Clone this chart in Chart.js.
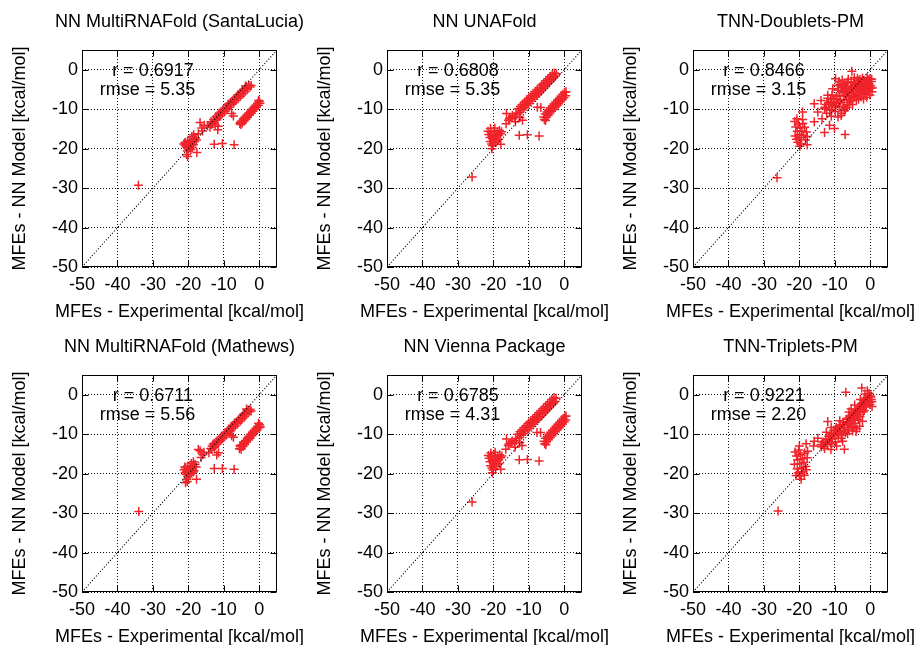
<!DOCTYPE html>
<html><head><meta charset="utf-8">
<script src="https://cdn.jsdelivr.net/npm/chart.js@4.4.1/dist/chart.umd.min.js"></script>
<style>
html,body{margin:0;padding:0;background:#fff;overflow:hidden;width:917px;height:645px;}
.cell{position:absolute;width:305px;height:325px;}
canvas{display:block;}
</style></head><body>
<div class="cell" style="left:0;top:0"><canvas id="c0" width="305" height="325"></canvas></div>
<div class="cell" style="left:305px;top:0"><canvas id="c1" width="305" height="325"></canvas></div>
<div class="cell" style="left:611px;top:0"><canvas id="c2" width="305" height="325"></canvas></div>
<div class="cell" style="left:0;top:325px"><canvas id="c3" width="305" height="325"></canvas></div>
<div class="cell" style="left:305px;top:325px"><canvas id="c4" width="305" height="325"></canvas></div>
<div class="cell" style="left:611px;top:325px"><canvas id="c5" width="305" height="325"></canvas></div>
<script>
const panelTitles = ['NN MultiRNAFold (SantaLucia)', 'NN UNAFold', 'TNN-Doublets-PM',
                     'NN MultiRNAFold (Mathews)', 'NN Vienna Package', 'TNN-Triplets-PM'];
const rValues = ['0.6917', '0.6808', '0.8466', '0.6711', '0.6785', '0.9221'];
const rmseValues = ['5.35', '5.35', '3.15', '5.56', '4.31', '2.20'];
const axisTicks = [-50, -40, -30, -20, -10, 0];
const axisRange = [-50, 5];
const xTitle = 'MFEs - Experimental [kcal/mol]';
const yTitle = 'MFEs - NN Model [kcal/mol]';

const santaLuciaPts = [
 [-13.6,-13.2],[-13.2,-13.5],[-12.9,-12.6],[-12.5,-12.9],[-12.2,-11.9],[-11.8,-12.3],[-11.5,-11.4],[-11.1,-11.8],[-10.8,-10.7],[-10.5,-11.2],
 [-10.1,-10.1],[-9.8,-10.6],[-9.5,-9.6],[-9.2,-10.0],[-8.9,-9.0],[-8.5,-9.5],[-8.2,-8.4],[-7.9,-8.9],[-7.6,-7.9],[-7.2,-8.4],
 [-6.9,-7.3],[-6.6,-7.8],[-6.3,-6.8],[-5.9,-7.2],[-5.6,-6.2],[-5.3,-6.7],[-5.0,-5.7],[-4.6,-6.1],[-4.3,-5.0],[-4.0,-5.5],
 [-3.6,-4.4],[-3.3,-4.9],[-3.0,-3.9],[-2.6,-4.4],[-2.3,-4.0],[-3.9,-4.1],[-12.0,-12.6],[-10.3,-10.4],[-8.7,-8.7],[-7.0,-7.6],
 [-5.4,-5.9],[-6.1,-6.4],[-9.0,-9.8],[-11.3,-11.0],[-4.8,-5.3],[-7.8,-8.1],
 [-5.5,-13.6],[-5.2,-13.9],[-5.0,-13.0],[-4.8,-13.5],[-4.5,-12.5],[-4.3,-13.0],[-4.0,-12.0],[-3.8,-12.5],[-3.5,-11.5],[-3.3,-12.0],
 [-3.0,-11.0],[-2.8,-11.5],[-2.5,-10.5],[-2.3,-11.0],[-2.0,-10.0],[-1.8,-10.5],[-1.5,-9.5],[-1.3,-10.0],[-1.0,-9.0],[-0.8,-9.5],
 [-0.5,-8.5],[-0.3,-9.0],[0.0,-8.0],[0.2,-8.5],[-0.2,-7.8],[-4.1,-12.7],[-2.6,-11.1],[-1.1,-9.6],[-3.6,-12.2],[-5.3,-13.3],
 [-20.8,-18.4],[-20.5,-19.0],[-20.2,-18.2],[-20.0,-18.8],[-19.8,-19.4],[-19.6,-18.0],[-19.4,-18.6],[-19.2,-19.2],[-19.0,-17.8],[-18.8,-18.4],
 [-18.6,-19.0],[-18.4,-17.6],[-18.2,-18.2],[-18.0,-17.3],[-17.7,-17.8],[-20.6,-19.6],[-20.1,-20.0],[-19.7,-19.8],[-19.3,-20.2],[-18.9,-19.7],
 [-20.9,-19.2],[-21.0,-18.6],[-20.3,-20.6],[-20.5,-21.5],[-20.2,-22.0],[-17.6,-21.0],[-19.0,-16.9],[-18.5,-16.5],[-21.3,-18.8],
 [-16.7,-13.4],[-16.2,-14.8],[-17.2,-16.2],[-15.5,-14.1],[-13.4,-13.9],[-13.9,-14.6],[-11.7,-15.2],[-11.6,-14.3],[-7.8,-11.1],[-7.3,-11.7],
 [-12.4,-14.0],[-14.6,-14.2],[-16.0,-15.5],
 [-12.7,-18.9],[-10.4,-18.7],[-7.1,-19.0],[-34.1,-29.3]
];

const unaFoldPts = [
 [-13.0,-9.9],[-12.4,-9.3],[-11.8,-8.8],[-11.2,-8.2],[-10.6,-7.7],[-10.0,-7.2],[-9.4,-6.6],[-8.8,-6.1],[-8.2,-5.5],[-7.6,-5.0],
 [-7.0,-4.5],[-6.4,-3.9],[-5.8,-3.4],[-5.2,-2.8],[-4.6,-2.3],[-4.0,-1.7],[-3.4,-1.2],[-2.8,-0.8],[-2.2,-1.0],
 [-12.6,-10.8],[-12.0,-10.2],[-11.4,-9.7],[-10.8,-9.1],[-10.2,-8.6],[-9.6,-8.0],[-9.0,-7.5],[-8.4,-7.0],[-7.8,-6.4],[-7.2,-5.9],
 [-6.6,-5.4],[-6.0,-4.8],[-5.4,-4.3],[-4.8,-3.7],[-4.2,-3.2],[-3.6,-2.6],[-3.0,-2.1],[-2.5,-1.6],
 [-12.2,-9.8],[-10.4,-8.1],[-8.6,-6.6],[-6.8,-4.9],[-5.0,-3.3],[-3.2,-1.7],[-11.0,-8.8],[-9.2,-7.0],[-7.4,-5.5],[-5.6,-3.9],[-3.8,-2.2],
 [-13.6,-11.0],[-14.6,-11.6],[-15.0,-12.2],[-14.0,-12.0],[-13.4,-11.5],
 [-15.7,-12.8],[-16.3,-11.1],[-16.4,-13.7],[-13.8,-13.2],[-11.8,-12.8],[-12.5,-12.1],[-7.6,-9.5],[-6.6,-9.6],[-15.5,-12.4],
 [-12.7,-16.6],[-10.4,-16.5],[-7.1,-16.8],[-26.0,-27.2],
 [-5.4,-11.2],[-4.9,-10.7],[-4.4,-10.2],[-3.9,-9.7],[-3.4,-9.2],[-2.9,-8.7],[-2.4,-8.2],[-1.9,-7.7],[-1.4,-7.2],[-0.9,-6.7],
 [-0.4,-6.2],[0.1,-5.7],[0.5,-5.6],
 [-5.6,-12.6],[-5.1,-12.1],[-4.6,-11.6],[-4.1,-11.1],[-3.6,-10.6],[-3.1,-10.1],[-2.6,-9.6],[-2.1,-9.1],[-1.6,-8.6],[-1.1,-8.1],
 [-0.6,-7.6],[-0.1,-7.1],[0.4,-6.6],[-5.8,-12.0],[-4.0,-10.4],[-2.2,-8.6],[-0.5,-6.9],[-5.3,-12.9],
 [-21.3,-16.4],[-21.0,-17.2],[-20.7,-15.8],[-20.4,-16.8],[-20.1,-17.6],[-19.8,-15.5],[-19.5,-16.4],[-19.2,-17.2],[-18.9,-15.9],[-18.6,-16.7],
 [-18.3,-15.4],[-18.0,-16.2],[-17.7,-15.7],[-20.9,-18.2],[-20.5,-18.8],[-20.2,-19.3],[-20.4,-20.0],[-19.9,-18.4],[-19.3,-18.0],[-17.9,-18.9],
 [-21.5,-15.6],[-19.6,-14.8],[-18.5,-17.6],[-20.8,-14.9]
];

const doubletsPts = [
 [-8.8,-3.0],[-8.2,-4.5],[-7.9,-2.6],[-7.5,-5.8],[-7.2,-3.6],[-6.8,-6.8],[-6.6,-4.8],[-6.2,-2.4],[-5.9,-5.5],[-5.7,-7.4],
 [-5.4,-3.2],[-5.0,-4.5],[-4.8,-6.1],[-4.5,-2.0],[-4.2,-3.8],[-4.0,-5.2],[-3.7,-6.6],[-3.4,-2.8],[-3.1,-4.4],[-2.8,-5.7],
 [-2.5,-3.3],[-2.2,-2.1],[-2.0,-4.8],[-1.7,-6.0],[-1.5,-3.0],[-1.2,-4.1],[-0.9,-5.3],[-0.6,-2.5],[-0.3,-3.6],[0.0,-4.7],
 [0.3,-3.0],[0.5,-5.6],[-0.1,-6.4],[-1.0,-7.0],[-2.6,-6.9],[-3.9,-7.6],[-6.0,-8.3],[-7.4,-7.6],[-8.6,-6.6],[-9.1,-5.2],
 [-4.4,-4.2],[-3.0,-3.6],[-1.8,-2.7],[-5.3,-5.0],[-6.4,-5.9],[-2.4,-4.1],[-0.5,-4.2],[-1.4,-5.1],
 [-8.5,-3.8],[-7.7,-4.2],[-7.0,-5.1],[-6.5,-3.2],[-6.0,-6.6],[-5.6,-4.1],[-5.1,-6.9],[-4.7,-3.1],[-4.3,-5.8],[-3.8,-4.7],
 [-3.5,-3.6],[-3.2,-5.2],[-2.9,-2.5],[-2.7,-6.3],[-2.3,-5.4],[-2.0,-3.0],[-1.6,-4.5],[-1.3,-3.6],[-1.1,-6.3],[-0.7,-3.2],
 [-0.4,-5.0],[-0.1,-2.3],[0.2,-4.1],[0.6,-4.6],[0.4,-2.4],[-0.9,-2.0],[-3.6,-2.2],[-6.9,-4.3],[-8.0,-5.5],[-7.1,-6.5],
 [-5.5,-7.9],[-4.4,-7.0],[-3.3,-7.5],[-1.9,-7.4],[-9.4,-7.4],[-8.9,-8.4],[-10.4,-8.1],[-11.2,-7.4],[-9.8,-9.4],[-10.9,-10.3],
 [-12.4,-8.8],[-7.0,-9.8],[-6.5,-8.9],[-5.0,-8.8],[-6.5,-9.5],
 [-12.8,-9.5],[-12.3,-11.0],[-11.8,-8.3],[-11.4,-10.2],[-11.0,-11.8],[-10.6,-9.0],[-10.2,-7.5],[-9.9,-10.6],[-9.5,-8.4],[-9.1,-12.0],
 [-8.8,-9.6],[-8.4,-7.8],[-8.1,-11.0],[-7.7,-9.2],[-7.3,-10.4],[-12.0,-7.2],[-10.8,-6.4],[-9.6,-6.8],
 [-5.2,-0.4],[-9.8,-2.3],[-9.2,-4.0],[-10.6,-4.8],[-12.0,-6.5],[-13.9,-7.8],[-15.8,-8.6],[-19.1,-10.7],[-14.8,-10.7],[-12.9,-9.9],
 [-15.8,-13.2],[-12.9,-15.9],[-10.1,-14.9],[-7.1,-16.4],[-11.5,-14.1],[-17.8,-19.0],[-8.2,-11.6],[-11.0,-8.6],[-13.6,-12.4],
 [-21.0,-14.5],[-20.6,-15.6],[-20.3,-13.8],[-20.0,-16.4],[-19.8,-14.8],[-19.5,-17.2],[-19.3,-15.5],[-19.0,-13.6],[-18.8,-16.6],[-18.5,-14.6],
 [-18.3,-17.8],[-18.0,-15.8],[-21.2,-16.8],[-20.8,-17.6],[-20.4,-18.4],[-19.6,-18.8],[-19.1,-12.6],[-20.7,-12.4],[-21.3,-13.1],[-17.8,-16.9],
 [-19.9,-19.4],[-26.3,-27.4]
];

const mathewsPts = [
 [-13.7,-13.6],[-13.3,-13.0],[-12.9,-13.2],[-12.6,-12.3],[-12.2,-12.7],[-11.9,-11.7],[-11.5,-12.1],[-11.2,-11.1],[-10.8,-11.5],[-10.5,-10.5],
 [-10.1,-10.9],[-9.8,-9.9],[-9.4,-10.3],[-9.1,-9.3],[-8.8,-9.7],[-8.4,-8.7],[-8.1,-9.1],[-7.8,-8.1],[-7.4,-8.5],[-7.1,-7.5],
 [-6.8,-7.9],[-6.4,-6.9],[-6.1,-7.3],[-5.8,-6.3],[-5.4,-6.7],[-5.1,-5.7],[-4.8,-6.1],[-4.5,-5.1],[-4.1,-5.5],[-3.8,-4.5],
 [-3.5,-4.9],[-3.2,-3.9],[-2.9,-4.3],[-2.6,-3.7],[-3.6,-3.6],[-2.3,-4.1],[-12.1,-12.1],[-10.4,-11.0],[-8.6,-9.2],[-6.9,-7.1],
 [-5.2,-6.2],[-9.6,-9.6],[-7.6,-7.8],[-4.3,-4.8],[-11.0,-11.6],[-13.0,-12.5],
 [-5.6,-13.7],[-5.3,-13.2],[-5.1,-13.8],[-4.9,-12.7],[-4.6,-13.1],[-4.4,-12.1],[-4.1,-12.6],[-3.9,-11.6],[-3.6,-12.0],[-3.4,-11.0],
 [-3.1,-11.5],[-2.9,-10.5],[-2.6,-11.0],[-2.4,-10.0],[-2.1,-10.4],[-1.9,-9.5],[-1.6,-9.9],[-1.4,-9.0],[-1.1,-9.4],[-0.9,-8.5],
 [-0.6,-8.9],[-0.4,-8.0],[-0.1,-8.4],[0.1,-7.6],[0.3,-8.1],[-0.2,-7.2],[-3.0,-10.9],[-1.5,-9.2],[-4.3,-12.4],[-5.4,-12.9],
 [-21.2,-19.0],[-20.8,-18.5],[-20.5,-19.4],[-20.2,-18.1],[-20.0,-19.0],[-19.8,-19.8],[-19.5,-18.4],[-19.3,-19.2],[-19.0,-18.0],[-18.8,-18.8],
 [-18.6,-19.6],[-18.3,-18.2],[-18.1,-17.6],[-17.8,-18.3],[-20.6,-20.2],[-20.2,-20.7],[-19.6,-20.3],[-19.1,-19.9],[-18.4,-19.3],[-20.9,-19.8],
 [-20.4,-21.4],[-20.3,-22.0],[-20.8,-22.3],[-17.7,-21.4],[-19.2,-17.4],[-18.6,-17.0],[-21.0,-18.3],
 [-16.7,-14.2],[-16.4,-15.9],[-15.6,-14.6],[-17.2,-13.9],[-13.4,-13.8],[-14.2,-14.7],[-11.5,-14.7],[-12.0,-15.3],[-7.3,-10.8],[-7.8,-10.4],
 [-12.6,-13.4],[-15.9,-15.2],
 [-12.7,-18.7],[-10.4,-18.7],[-7.1,-18.9],[-34.0,-29.6]
];

const viennaPts = [
 [-13.1,-10.0],[-12.5,-9.4],[-11.9,-8.9],[-11.3,-8.3],[-10.7,-7.8],[-10.1,-7.2],[-9.5,-6.7],[-8.9,-6.2],[-8.3,-5.6],[-7.7,-5.1],
 [-7.1,-4.5],[-6.5,-4.0],[-5.9,-3.4],[-5.3,-2.9],[-4.7,-2.3],[-4.1,-1.8],[-3.5,-1.2],[-2.9,-0.7],[-2.3,-0.9],
 [-12.7,-10.9],[-12.1,-10.3],[-11.5,-9.8],[-10.9,-9.2],[-10.3,-8.7],[-9.7,-8.1],[-9.1,-7.6],[-8.5,-7.1],[-7.9,-6.5],[-7.3,-6.0],
 [-6.7,-5.5],[-6.1,-4.9],[-5.5,-4.4],[-4.9,-3.8],[-4.3,-3.3],[-3.7,-2.7],[-3.1,-2.2],[-2.6,-1.7],
 [-12.3,-9.9],[-10.5,-8.2],[-8.7,-6.7],[-6.9,-5.0],[-5.1,-3.4],[-3.3,-1.8],[-11.1,-8.9],[-9.3,-7.1],[-7.5,-5.6],[-5.7,-4.0],[-3.9,-2.3],
 [-13.7,-11.1],[-14.7,-11.7],[-15.1,-12.3],[-14.1,-12.1],[-13.5,-11.6],
 [-15.8,-12.9],[-16.3,-11.2],[-16.5,-13.8],[-13.9,-13.3],[-11.9,-12.9],[-12.6,-12.2],[-7.7,-9.6],[-6.7,-9.6],[-15.6,-12.5],
 [-12.7,-16.5],[-10.4,-16.4],[-7.1,-16.8],[-26.0,-27.2],
 [-5.3,-11.0],[-4.8,-10.5],[-4.3,-10.0],[-3.8,-9.5],[-3.3,-9.0],[-2.8,-8.5],[-2.3,-8.0],[-1.8,-7.5],[-1.3,-7.0],[-0.8,-6.5],
 [-0.3,-6.0],[0.2,-5.5],[0.5,-5.4],
 [-5.5,-12.4],[-5.0,-11.9],[-4.5,-11.4],[-4.0,-10.9],[-3.5,-10.4],[-3.0,-9.9],[-2.5,-9.4],[-2.0,-8.9],[-1.5,-8.4],[-1.0,-7.9],
 [-0.5,-7.4],[0.0,-6.9],[0.4,-6.4],[-5.7,-11.8],[-3.9,-10.2],[-2.1,-8.4],[-0.4,-6.7],[-5.2,-12.7],
 [-21.2,-16.1],[-20.9,-17.0],[-20.6,-15.6],[-20.3,-16.6],[-20.0,-17.4],[-19.7,-15.3],[-19.4,-16.2],[-19.1,-17.0],[-18.8,-15.7],[-18.5,-16.5],
 [-18.2,-15.2],[-17.9,-16.0],[-17.6,-15.5],[-20.8,-18.0],[-20.4,-18.6],[-20.1,-19.1],[-20.3,-19.8],[-19.8,-18.2],[-19.2,-17.8],[-17.9,-18.9],
 [-21.4,-15.4],[-19.5,-14.6],[-18.4,-17.4],[-20.7,-14.8]
];

const tripletsPts = [
 [-13.8,-13.2],[-13.3,-12.0],[-12.9,-13.6],[-12.5,-11.4],[-12.1,-12.6],[-11.7,-10.5],[-11.4,-11.9],[-11.0,-9.8],[-10.7,-11.2],[-10.3,-9.0],
 [-10.0,-10.4],[-9.6,-8.3],[-9.3,-9.7],[-9.0,-11.0],[-8.7,-7.8],[-8.4,-9.1],[-8.0,-10.3],[-7.7,-7.0],[-7.4,-8.4],[-7.0,-9.6],
 [-6.7,-6.2],[-6.4,-7.5],[-6.1,-8.8],[-5.8,-5.4],[-5.5,-6.8],[-5.2,-8.0],[-4.9,-4.6],[-4.6,-6.0],[-4.3,-7.2],[-4.0,-3.9],
 [-3.7,-5.1],[-3.4,-6.3],[-3.1,-3.0],[-2.8,-4.3],[-2.5,-2.2],[-2.2,-3.5],[-1.9,-1.5],[-1.6,-2.7],[-1.3,-0.8],[-1.0,-2.0],
 [-0.7,-0.2],[-0.4,-1.3],[-0.1,-2.5],[0.2,-0.6],[0.4,-1.8],[-0.3,0.3],[-1.7,-4.0],[-2.9,-5.6],[-9.8,-12.0],[-11.0,-8.3],
 [-8.6,-6.6],[-6.0,-4.4],[-12.4,-9.5],[-5.0,-9.2],[-3.8,-8.6],[-2.2,-6.7],
 [-13.5,-12.6],[-12.7,-12.0],[-11.9,-11.2],[-11.2,-10.6],[-10.5,-10.0],[-9.9,-9.0],[-9.1,-8.6],[-8.5,-8.2],[-7.9,-7.6],[-7.2,-7.8],
 [-6.6,-6.9],[-6.2,-5.9],[-5.6,-6.1],[-5.0,-5.6],[-4.5,-5.0],[-4.1,-4.5],[-3.6,-4.1],[-3.2,-3.6],[-2.7,-3.1],[-2.3,-2.6],
 [-1.8,-2.1],[-1.4,-1.7],[-0.9,-1.1],[-0.5,-0.7],[0.0,-0.3],[0.3,-1.2],[-0.2,-1.8],[-1.2,-3.1],[-2.0,-4.4],[-3.3,-5.0],
 [-4.7,-6.5],[-5.9,-7.4],[-7.6,-9.2],[-8.9,-9.9],[-10.9,-12.4],[-1.5,0.2],[-2.8,-1.2],[-4.4,-2.6],[-5.4,-3.6],[-6.4,-9.9],
 [-8.2,-11.0],[-4.6,-8.3],
 [-6.9,0.6],[-2.4,1.7],[-4.0,-9.3],[-7.8,-11.8],[-7.3,-13.8],[-11.1,-13.9],[-13.0,-13.1],[-15.8,-11.8],[-18.1,-12.4],[-17.7,-14.3],
 [-13.9,-12.7],[-12.0,-6.8],[-14.8,-11.0],[-16.0,-13.0],[-0.8,1.0],[0.5,-3.0],[-3.0,-8.0],[-9.5,-13.0],
 [-21.2,-14.5],[-20.8,-15.5],[-20.5,-16.5],[-20.2,-14.0],[-19.9,-17.5],[-19.7,-15.2],[-19.4,-18.5],[-19.2,-16.3],[-19.0,-19.5],[-18.7,-17.2],
 [-18.5,-14.8],[-18.2,-18.2],[-20.6,-18.8],[-20.3,-19.8],[-19.8,-20.6],[-19.5,-21.4],[-20.9,-20.5],[-18.6,-20.4],[-17.8,-16.0],[-21.4,-17.6],
 [-20.0,-13.0],[-18.0,-19.0],[-26.0,-29.5]
];

const panelPoints = [santaLuciaPts, unaFoldPts, doubletsPts, mathewsPts, viennaPts, tripletsPts];

const FONT = '"Liberation Sans", Arial, Helvetica, sans-serif';
Chart.defaults.font.family = FONT;
Chart.defaults.font.size = 18;
Chart.defaults.color = '#000';

const gpDecor = {
  id: 'gpDecor',
  afterDraw(chart, args, opts) {
    const {ctx, chartArea: a, scales: {x, y}} = chart;
    ctx.save();
    ctx.strokeStyle = '#000';
    ctx.lineWidth = 1;
    ctx.setLineDash([]);
    const L = Math.round(a.left) + 0.5, R = Math.round(a.right) - 0.5;
    const T = Math.round(a.top) + 0.5, B = Math.round(a.bottom) - 0.5;
    ctx.strokeRect(L, T, R - L, B - T);
    const tl = 6;
    ctx.beginPath();
    axisTicks.forEach(v => {
      const px = Math.round(x.getPixelForValue(v)) + 0.5;
      ctx.moveTo(px, B); ctx.lineTo(px, B - tl);
      ctx.moveTo(px, T); ctx.lineTo(px, T + tl);
      const py = Math.round(y.getPixelForValue(v)) + 0.5;
      ctx.moveTo(L, py); ctx.lineTo(L + tl, py);
      ctx.moveTo(R, py); ctx.lineTo(R - tl, py);
    });
    ctx.stroke();
    ctx.fillStyle = '#000';
    ctx.font = '18px ' + FONT;
    ctx.textAlign = 'center';
    ctx.textBaseline = 'middle';
    const cx = (a.left + a.right) / 2, cy = (a.top + a.bottom) / 2;
    ctx.fillText(opts.title, cx, 21.8);
    ctx.fillText(opts.xTitle, cx, chart.height - 12.8);
    ctx.fillText('r = ' + opts.r, x.getPixelForValue(-30), y.getPixelForValue(-0.3));
    ctx.fillText('rmse = ' + opts.rmse, x.getPixelForValue(-31.5), y.getPixelForValue(-5.1));
    ctx.translate(19.8, cy);
    ctx.rotate(-Math.PI / 2);
    ctx.fillText(opts.yTitle, 0, 0);
    ctx.restore();
  }
};

function setTicks(scale) { scale.ticks = axisTicks.map(v => ({value: v})); }

function makePanel(i) {
  const gridOpts = {color: '#111', lineWidth: 1, drawTicks: false, tickLength: 0};
  const borderOpts = {display: false, dash: [1, 2]};
  new Chart(document.getElementById('c' + i), {
    type: 'scatter',
    data: {datasets: [
      {data: axisRange.map(v => ({x: v, y: v})), showLine: true, borderColor: '#000',
       borderWidth: 1.2, borderDash: [1, 2], pointRadius: 0, fill: false},
      {data: panelPoints[i].map(p => ({x: p[0], y: p[1]})), pointStyle: 'cross', pointRadius: 4.5,
       pointHoverRadius: 4.5, borderColor: '#f0232b', backgroundColor: '#f0232b', borderWidth: 1.5}
    ]},
    options: {
      responsive: false, animation: false, events: [],
      layout: {padding: {left: 0, right: 28, top: 50, bottom: 0}},
      plugins: {
        legend: {display: false}, tooltip: {enabled: false}, title: {display: false},
        gpDecor: {r: rValues[i], rmse: rmseValues[i], title: panelTitles[i], xTitle: xTitle, yTitle: yTitle}
      },
      scales: {
        x: {type: 'linear', position: 'bottom', min: axisRange[0], max: axisRange[1],
            afterBuildTicks: setTicks, afterFit: s => { s.height = 58; },
            grid: gridOpts, border: borderOpts,
            ticks: {color: '#000', padding: 7, maxRotation: 0, autoSkip: false, callback: v => String(v)}},
        y: {type: 'linear', position: 'left', min: axisRange[0], max: axisRange[1],
            afterBuildTicks: setTicks, afterFit: s => { s.width = 82; },
            grid: gridOpts, border: borderOpts,
            ticks: {color: '#000', padding: 4, autoSkip: false, callback: v => String(v)}}
      }
    },
    plugins: [gpDecor]
  });
}
for (let i = 0; i < 6; i++) makePanel(i);
</script>
</body></html>
